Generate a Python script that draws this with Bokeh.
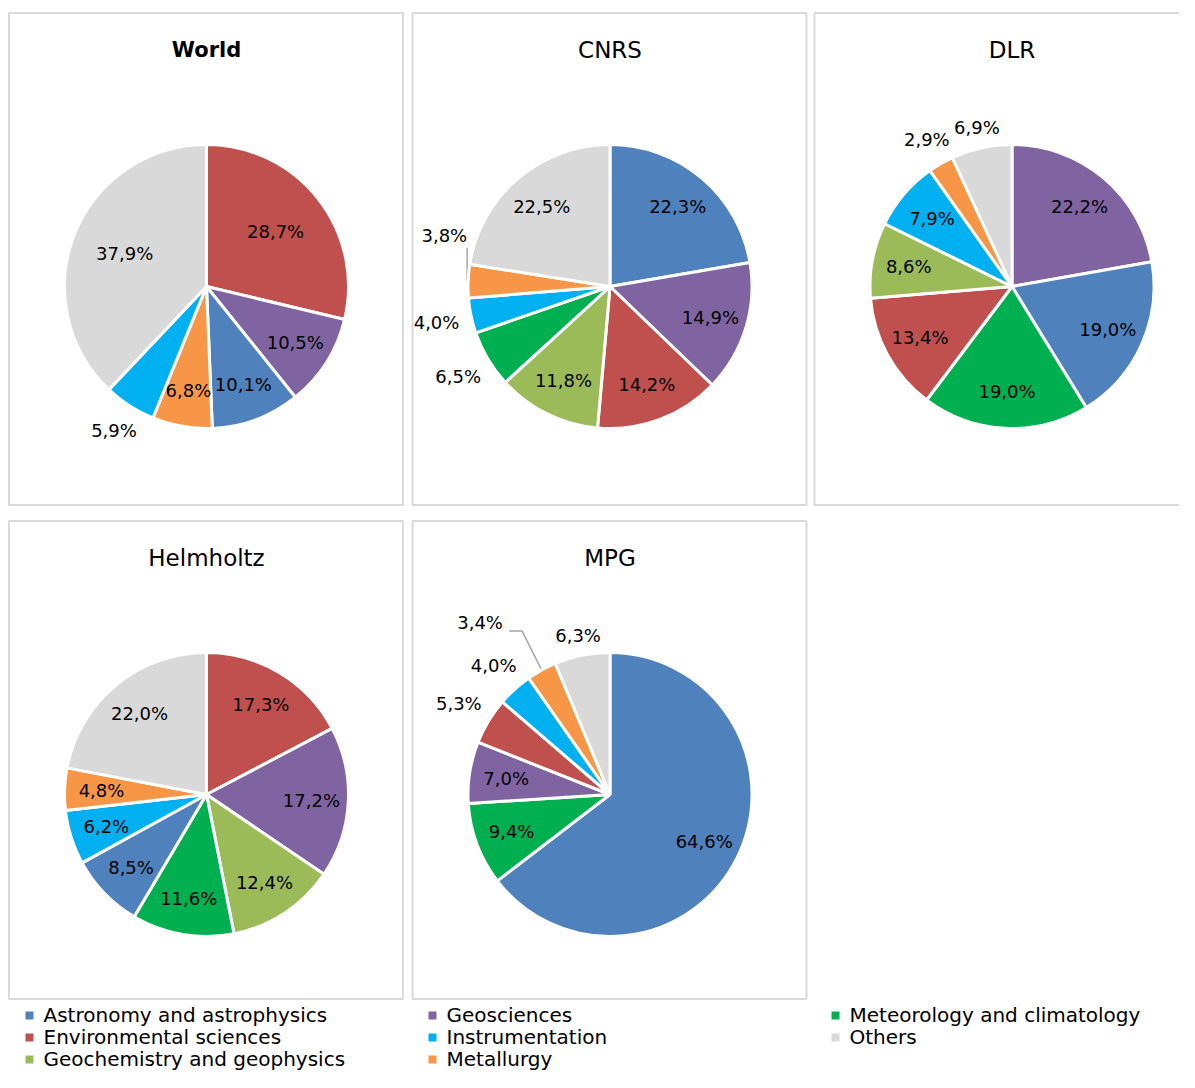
import math
from bokeh.plotting import figure
from bokeh.models import Range1d, ColumnDataSource
from bokeh.core.properties import value
from bokeh.embed import file_html
from bokeh.resources import INLINE

# ---------------- data ----------------
categories = ["Astronomy and astrophysics", "Environmental sciences", "Geochemistry and geophysics",
              "Geosciences", "Instrumentation", "Metallurgy", "Meteorology and climatology", "Others"]

world_cats = ["Environmental sciences", "Geosciences", "Astronomy and astrophysics", "Metallurgy",
              "Instrumentation", "Others"]
world_vals = [28.7, 10.5, 10.1, 6.8, 5.9, 37.9]

cnrs_cats = ["Astronomy and astrophysics", "Geosciences", "Environmental sciences", "Geochemistry and geophysics",
             "Meteorology and climatology", "Instrumentation", "Metallurgy", "Others"]
cnrs_vals = [22.3, 14.9, 14.2, 11.8, 6.5, 4.0, 3.8, 22.5]

dlr_cats = ["Geosciences", "Astronomy and astrophysics", "Meteorology and climatology", "Environmental sciences",
            "Geochemistry and geophysics", "Instrumentation", "Metallurgy", "Others"]
dlr_vals = [22.2, 19.0, 19.0, 13.4, 8.6, 7.9, 2.9, 6.9]

helmholtz_cats = ["Environmental sciences", "Geosciences", "Geochemistry and geophysics", "Meteorology and climatology",
                  "Astronomy and astrophysics", "Instrumentation", "Metallurgy", "Others"]
helmholtz_vals = [17.3, 17.2, 12.4, 11.6, 8.5, 6.2, 4.8, 22.0]

mpg_cats = ["Astronomy and astrophysics", "Meteorology and climatology", "Geosciences", "Environmental sciences",
            "Instrumentation", "Metallurgy", "Others"]
mpg_vals = [64.6, 9.4, 7.0, 5.3, 4.0, 3.4, 6.3]

titles = ["World", "CNRS", "DLR", "Helmholtz", "MPG"]

# ---------------- styles / layout ----------------
colors = {
    "Astronomy and astrophysics": "#4F81BD",
    "Environmental sciences": "#C0504D",
    "Geochemistry and geophysics": "#9BBB59",
    "Geosciences": "#8064A2",
    "Instrumentation": "#00B0F0",
    "Metallurgy": "#F79646",
    "Meteorology and climatology": "#00B050",
    "Others": "#D9D9D9",
}
FONT = "DejaVu Sans"
W, H = 1179, 1072
PANEL_W = 394
panel_lefts = [8.5, 412, 814, 8.5, 412]
panel_tops = [12.5, 12.5, 12.5, 520.5, 520.5]
panel_heights = [492, 492, 492, 478, 478]
R = 142
# labels drawn outside the pie (small slices)
outside = {
    "World": ["Instrumentation"],
    "CNRS": ["Meteorology and climatology", "Instrumentation", "Metallurgy"],
    "DLR": ["Metallurgy", "Others"],
    "Helmholtz": [],
    "MPG": ["Environmental sciences", "Instrumentation", "Metallurgy", "Others"],
}
# labels moved away with a leader line: (label angle deg clockwise from top, distance factor, leader style)
leader_labels = {
    ("CNRS", "Metallurgy"): (287, 1.22, "vertical"),
    ("MPG", "Metallurgy"): (323, 1.52, "elbow"),
}

datasets = [(world_cats, world_vals), (cnrs_cats, cnrs_vals), (dlr_cats, dlr_vals),
            (helmholtz_cats, helmholtz_vals), (mpg_cats, mpg_vals)]


def Y(sy):
    return H - sy


p = figure(width=W, height=H, x_range=Range1d(0, W), y_range=Range1d(0, H),
           output_backend="svg", toolbar_location=None, x_axis_location=None, y_axis_location=None,
           min_border=0, outline_line_color=None, background_fill_color="white", border_fill_color="white")
p.grid.visible = False

# panel borders
p.quad(left=panel_lefts, right=[l + PANEL_W for l in panel_lefts],
       top=[Y(t) for t in panel_tops], bottom=[Y(t + h) for t, h in zip(panel_tops, panel_heights)],
       fill_color=None, line_color="#D9D9D9", line_width=2)

for idx, (title, (cats, vals)) in enumerate(zip(titles, datasets)):
    left, top = panel_lefts[idx], panel_tops[idx]
    cx, cy = left + 197.5, top + 273.5
    total = sum(vals)
    fr = [v / total for v in vals]
    starts, ends, cols = [], [], []
    lx, ly, ltext = [], [], []
    acc = 0.0
    for c, f, v in zip(cats, fr, vals):
        a0, a1 = acc, acc + f
        acc = a1
        starts.append(math.pi / 2 - 2 * math.pi * a1)
        ends.append(math.pi / 2 - 2 * math.pi * a0)
        cols.append(colors[c])
        mid = 2 * math.pi * (a0 + a1) / 2
        txt = f"{v:.1f}%".replace(".", ",")
        key = (title, c)
        if key in leader_labels:
            ang, dfac, style = leader_labels[key]
            th = math.radians(ang)
            d = dfac * R
            tx, ty = cx + d * math.sin(th), cy - d * math.cos(th)
            ex, ey = cx + (R - 1) * math.sin(mid), cy - (R - 1) * math.cos(mid)
            if style == "vertical":
                xs, ys = [ex - 2, ex - 2], [ey, ty + 12]
            else:
                xr, yl = tx + 29, ty + 9
                xs, ys = [ex, xr + 13, xr], [ey, yl, yl]
            p.line(xs, [Y(s) for s in ys], line_color="#A6A6A6", line_width=1.5)
        elif c in outside[title]:
            d = R + 6 + abs(math.sin(mid)) * 28 + abs(math.cos(mid)) * 9
            tx, ty = cx + d * math.sin(mid), cy - d * math.cos(mid)
        else:
            d = R * (0.62 if 25 < v < 50 else 0.74)
            tx, ty = cx + d * math.sin(mid), cy - d * math.cos(mid)
        lx.append(tx)
        ly.append(Y(ty))
        ltext.append(txt)
    src = ColumnDataSource(dict(start=starts, end=ends, color=cols))
    p.wedge(x=cx, y=Y(cy), radius=R, start_angle="start", end_angle="end", fill_color="color",
            line_color="white", line_width=3, source=src)
    p.text(x=lx, y=ly, text=ltext, text_font=value(FONT), text_font_size="18px",
           text_align="center", text_baseline="middle", text_color="#000000")
    p.text(x=[cx], y=[Y(top + 37)], text=[title], text_font=value(FONT),
           text_font_size="21px" if title == "World" else "23px",
           text_font_style="bold" if title == "World" else "normal",
           text_align="center", text_baseline="middle", text_color="#000000")

# legend (column-major, 3 rows)
leg_x, leg_y, leg_c = [], [], []
for i, c in enumerate(categories):
    col, row = i // 3, i % 3
    leg_x.append(29 + col * 403)
    leg_y.append(Y(1015 + row * 22))
    leg_c.append(colors[c])
p.scatter(x=leg_x, y=leg_y, marker="square", size=8, fill_color=leg_c, line_color=None)
p.text(x=[x + 14 for x in leg_x], y=[y + 1 for y in leg_y], text=categories, text_font=value(FONT),
       text_font_size="20px", text_align="left", text_baseline="middle", text_color="#000000")

open("out.html", "w").write(file_html(p, INLINE))
